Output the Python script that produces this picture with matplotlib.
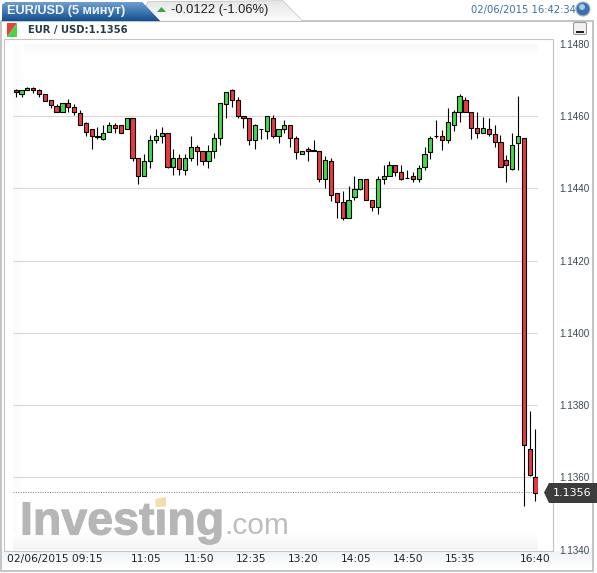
import numpy as np
import matplotlib
matplotlib.use('Agg')
import matplotlib.pyplot as plt
import matplotlib.patheffects as pe
from matplotlib.patches import Polygon, Rectangle, Circle, FancyBboxPatch

# Candles, 5 minute EUR/USD
highs = [1.14676,1.14673,1.14681,1.14680,1.14674,1.14662,1.14644,1.14633,1.14637,1.14647,
         1.14633,1.14618,1.14584,1.14564,1.14569,1.14575,1.14583,1.14580,1.14575,1.14594,
         1.14594,1.14485,1.14495,1.14548,1.14565,1.14569,1.14553,1.14509,1.14495,1.14495,
         1.14545,1.14520,1.14504,1.14520,1.14553,1.14637,1.14667,1.14676,1.14652,1.14599,
         1.14594,1.14577,1.14564,1.14599,1.14603,1.14564,1.14588,1.14575,1.14544,1.14504,
         1.14515,1.14534,1.14504,1.14489,1.14485,1.14386,1.14392,1.14406,1.14435,1.14425,
         1.14425,1.14367,1.14435,1.14465,1.14475,1.14465,1.14465,1.14451,1.14444,1.14465,
         1.14515,1.14544,1.14588,1.14562,1.14623,1.14618,1.14662,1.14652,1.14612,1.14612,
         1.14598,1.14594,1.14574,1.14548,1.14491,1.14553,1.14654,1.14539,1.13784,1.13733]
lows = [1.14653,1.14653,1.14673,1.14665,1.14653,1.14642,1.14621,1.14612,1.14612,1.14612,
        1.14603,1.14576,1.14544,1.14510,1.14535,1.14533,1.14555,1.14553,1.14552,1.14564,
        1.14475,1.14411,1.14435,1.14455,1.14524,1.14524,1.14457,1.14436,1.14436,1.14436,
        1.14475,1.14465,1.14465,1.14455,1.14485,1.14520,1.14594,1.14624,1.14594,1.14568,
        1.14520,1.14510,1.14535,1.14535,1.14539,1.14524,1.14553,1.14515,1.14480,1.14495,
        1.14475,1.14504,1.14416,1.14402,1.14366,1.14318,1.14313,1.14318,1.14367,1.14396,
        1.14367,1.14338,1.14328,1.14411,1.14435,1.14435,1.14422,1.14428,1.14416,1.14416,
        1.14451,1.14480,1.14539,1.14505,1.14525,1.14559,1.14583,1.14612,1.14535,1.14539,
        1.14552,1.14544,1.14515,1.14460,1.14416,1.14451,1.14451,1.13520,1.13604,1.13534]
opens = [1.14673,1.14662,1.14673,1.14677,1.14673,1.14662,1.14643,1.14629,1.14612,1.14637,
         1.14624,1.14608,1.14580,1.14564,1.14545,1.14537,1.14555,1.14575,1.14575,1.14564,
         1.14594,1.14485,1.14435,1.14476,1.14534,1.14545,1.14553,1.14459,1.14485,1.14451,
         1.14485,1.14515,1.14504,1.14475,1.14504,1.14538,1.14632,1.14673,1.14643,1.14599,
         1.14594,1.14533,1.14564,1.14558,1.14594,1.14544,1.14563,1.14575,1.14539,1.14495,
         1.14509,1.14505,1.14504,1.14425,1.14476,1.14386,1.14362,1.14318,1.14375,1.14398,
         1.14425,1.14367,1.14347,1.14425,1.14435,1.14465,1.14446,1.14429,1.14435,1.14425,
         1.14460,1.14501,1.14545,1.14545,1.14533,1.14574,1.14612,1.14643,1.14612,1.14568,
         1.14552,1.14564,1.14549,1.14528,1.14479,1.14453,1.14525,1.14539,1.13678,1.13600]
closes = [1.14666,1.14673,1.14678,1.14673,1.14662,1.14642,1.14631,1.14612,1.14637,1.14624,
          1.14612,1.14576,1.14557,1.14544,1.14543,1.14553,1.14575,1.14568,1.14552,1.14594,
          1.14484,1.14435,1.14476,1.14534,1.14545,1.14553,1.14459,1.14485,1.14452,1.14485,
          1.14515,1.14504,1.14475,1.14504,1.14538,1.14637,1.14667,1.14643,1.14599,1.14594,
          1.14533,1.14575,1.14563,1.14599,1.14544,1.14564,1.14575,1.14538,1.14500,1.14504,
          1.14504,1.14504,1.14425,1.14479,1.14380,1.14362,1.14318,1.14367,1.14397,1.14425,
          1.14367,1.14347,1.14427,1.14435,1.14465,1.14446,1.14425,1.14428,1.14425,1.14455,
          1.14495,1.14539,1.14544,1.14533,1.14583,1.14612,1.14654,1.14612,1.14568,1.14552,
          1.14568,1.14549,1.14528,1.14460,1.14465,1.14520,1.14545,1.13689,1.13606,1.13558]

price_ticks = [1.1340, 1.1360, 1.1380, 1.1400, 1.1420, 1.1440, 1.1460, 1.1480]
time_pos = [6.64, 22.3, 31.4, 40.3, 49.3, 58.3, 67.2, 76.1, 88.9]
time_labels = ['02/06/2015 09:15', '11:05', '11:50', '12:35', '13:20', '14:05', '14:50', '15:35', '16:40']
last_price = 1.1356

W, H = 597, 573
fig = plt.figure(figsize=(W/100, H/100), dpi=100)
fig.patch.set_facecolor('white')

# Background axes in pixel coordinates for the widget chrome
bg = fig.add_axes([0, 0, 1, 1])
bg.set_xlim(0, W)
bg.set_ylim(H, 0)
bg.axis('off')

def gradient(ax, extent, c1, c2, clip=None, horizontal=False, z=2):
    cmap = matplotlib.colors.LinearSegmentedColormap.from_list('', [c1, c2])
    g = np.linspace(0, 1, 64).reshape(-1, 1)
    if horizontal:
        g = g.T
    im = ax.imshow(g, extent=extent, cmap=cmap, aspect='auto', zorder=z, interpolation='bilinear')
    if clip is not None:
        im.set_clip_path(clip)

# Outer frame and plot box
bg.add_patch(Rectangle((1, 21), 592, 550, fc='white', ec='#b4b4b4', lw=1.1, zorder=1))
gradient(bg, (2, 592, 570, 551), '#eff4f9', '#ffffff')
bg.add_patch(Rectangle((3.5, 38.5), 549, 512, fc='white', ec='#c4c4c4', lw=0.8, zorder=3))
# faint shading just inside the plot edges
gradient(bg, (13, 538, 56, 44), '#f8f8f8', '#ffffff', z=4)
gradient(bg, (13, 24, 550, 44), '#fbfbfb', '#ffffff', horizontal=True, z=4)
gradient(bg, (13, 538, 550, 532), '#ffffff', '#f4f4f4', z=4)

# Tabs
tab2 = Polygon([(140, 21), (148, 2), (283, 1), (302, 21)], fc='#eeeeee', ec='#b4b4b4', lw=0.8, zorder=2)
bg.add_patch(tab2)
gradient(bg, (140, 302, 21, 1), '#e6e6e6', '#fcfcfc', clip=tab2)
tab1 = Polygon([(2, 21), (2, 5), (6, 2), (142, 2), (160, 21)], fc='#2a66ac', ec='none', zorder=2)
bg.add_patch(tab1)
gradient(bg, (2, 160, 21, 2), '#6f9fd0', '#12508f', clip=tab1)
bg.text(7, 11, 'EUR/USD (5 минут)', color='white', fontsize=9.2, family='Liberation Sans',
        fontweight='bold', va='center', ha='left', zorder=5, alpha=0.92)
bg.add_patch(Polygon([(157, 12), (166, 12), (161.5, 7)], fc='#3ea33e', ec='none', zorder=5))
bg.text(171, 10.5, '-0.0122 (-1.06%)', color='#222222', fontsize=9.3, family='Liberation Sans',
        va='center', ha='left', zorder=5)
bg.text(471, 10.5, '02/06/2015 16:42:34', color='#3c70a4', fontsize=7.2, family='DejaVu Sans',
        va='center', ha='left', zorder=5)

# Globe and minus button
bg.add_patch(Circle((583, 9), 7, fc='#3a6fb0', ec='#aab4c0', lw=0.9, zorder=5))
bg.add_patch(Circle((582, 7), 3, fc='#a9c6e6', ec='none', zorder=6))
bg.add_patch(FancyBboxPatch((575, 24), 10, 9, boxstyle='round,pad=1.5', fc='#f2f2f2', ec='#999999', lw=0.8, zorder=5))
bg.add_patch(Rectangle((576, 31), 8, 1.6, fc='#222222', ec='none', zorder=6))

# Legend swatch
bg.add_patch(Polygon([(7, 23), (17, 23), (7, 37)], fc='#e8413c', ec='none', zorder=5))
bg.add_patch(Polygon([(17, 23), (17, 37), (7, 37)], fc='#46d64a', ec='none', zorder=5))
bg.text(28, 29.5, 'EUR / USD:1.1356', color='#263c4a', fontsize=7.2, family='DejaVu Sans',
        fontweight='bold', va='center', ha='left', zorder=5)

# Watermark
wm = bg.text(20, 534.5, 'Investing', color='#b6b6b6', fontsize=33.5, family='Liberation Sans', fontweight='bold',
             va='baseline', ha='left', zorder=5)
wm.set_path_effects([pe.withStroke(linewidth=0.8, foreground='#b6b6b6')])
bg.text(224, 534.5, '.com', color='#bdbdbd', fontsize=21.5, family='Liberation Sans',
        va='baseline', ha='left', zorder=5)
bg.add_patch(Polygon([(155.5, 499), (166, 497), (166, 506.5), (155.5, 507)], fc='#f6dca8', ec='none', zorder=6))

# Chart axes
ax = fig.add_axes([13/W, 1 - 549.6/H, 525/W, (549.6 - 43.74)/H])
ax.patch.set_alpha(0)
ax.set_xlim(-0.462, 89.43)
ax.set_ylim(1.1340, 1.1480)
for s in ax.spines.values():
    s.set_visible(False)

ax.hlines(price_ticks[1:-1], -0.462, 89.43, color='#d8d8d8', lw=0.8, zorder=1)
ax.hlines(last_price, -0.462, 89.43, color='#777777', lw=0.7, linestyles=(0, (1, 1.5)), zorder=1)

x = np.arange(len(opens))
o = np.array(opens)
c = np.array(closes)
cols = np.where(c >= o, '#3fdc4a', '#ea3a40')
ax.vlines(x, lows, highs, color='black', lw=0.8, zorder=2)
ax.bar(x, np.abs(c - o), bottom=np.minimum(o, c), width=0.72, color=cols, edgecolor='black', lw=0.8, zorder=3)

ax.yaxis.tick_right()
ax.set_yticks(price_ticks)
ax.set_yticklabels(['%.4f' % p for p in price_ticks], fontsize=7.1, color='#3a4a50', family='Liberation Sans')
ax.tick_params(axis='y', length=0, pad=15)
ax.set_xticks(time_pos)
ax.set_xticklabels(time_labels, fontsize=7.7, color='#222222', family='DejaVu Sans')
ax.tick_params(axis='x', length=0, pad=3)

# Last price badge
bg.add_patch(Polygon([(544, 492.5), (549, 483), (597, 483), (597, 503), (549, 503)], fc='#3c3c3c', ec='none', zorder=7))
bg.text(572, 492.5, '%.4f' % last_price, color='white', fontsize=8, family='DejaVu Sans',
        va='center', ha='center', zorder=8)

fig.savefig('out.png', dpi=100)
